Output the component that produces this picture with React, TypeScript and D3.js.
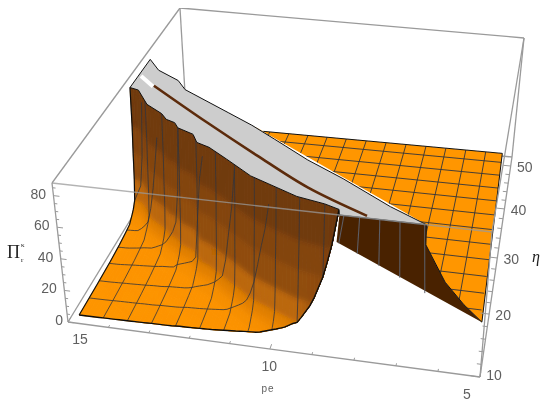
import React from 'react';
import * as d3 from 'd3';

type V = [number, number, number];

const zTop = 88;

// where the front part of the surface leaves the top of the box: pe / eta (also the jagged lower edge of the cap)
const capLowerPe = [14.8, 14.55, 14.1, 13.6, 13.4, 13.15, 13, 12.55, 12.35, 12, 11.45, 10.7, 9.47, 8.8, 8.45, 8.4];
const capLowerEta = [30.4, 30.0, 27.2, 25.6, 24.5, 24.0, 23.0, 22.0, 20.4, 19.7, 17.9, 15.3, 12.5, 11.7, 11, 10];
// Pi against the distance in eta below that edge
const poleOffset = [0, 0.35, 0.7, 1, 1.4, 2, 2.5, 3.5, 5, 7, 10, 14, 20, 30];
const piAtOffset = [88, 62, 45, 28, 15, 11, 9, 5.5, 4.5, 3.5, 2.6, 2, 1.5, 1];

// mesh lines of the front part
const frontEta = 11;
const meshPe = [14.2, 13.6, 13, 12.4, 11.8, 11.2, 10.6, 10, 9.4, 8.8];
const meshEta = [14, 17, 20, 23, 26, 29];

// flat back part
const planePe = [5.8, 6.4, 7, 7.6, 8.2, 8.8, 9.4, 10, 10.6, 11.2, 11.8, 12.4];
const planeEta = [20, 23, 26, 29, 32, 35, 38, 41, 44, 47, 50];
const planeLevel = 2;
const planeCorners: V[] = [[12.6, 52, 2], [5.3, 52, 2], [5.15, 18.6, 0]];

// dark wall under the clipped part
const wallCurve: V[] = [[5.15, 18.6, 0], [5.6, 16.7, 17], [6.05, 14.5, 38], [6.5, 12.2, 68], [6.46, 10, 88]];
const wallTopLeft: V = [8.4, 10, 88];
const wallFoot: V = [9.3, 29.6, 0];
const wallMeshTopPe = [8.3, 7.95, 7.5, 7.05, 6.5];
const wallMeshFootPe = [9.23, 8.67, 8.03, 7.42, 6.7];
const wallMeshFootEta = [29.4, 27.9, 26.2, 24.5, 22.3];

// upper edge of the cap, the brown stripe in it and the white notch
const capUpperPe = [14.8, 14.39, 13.72, 13.4, 12, 11.26, 10.54, 10.22, 9.56, 8.6, 7.35, 6.46];
const capUpperEta = [37.6, 35.2, 33.2, 31.2, 27.2, 25.1, 22.7, 21.6, 19.3, 16.6, 12.5, 10];
const stripePe = [14.24, 12.4, 10.8, 9.3, 7.8];
const stripeEta = [31.4, 24.8, 19.2, 14.3, 10.4];
const notchPe = [14.73, 14.25];
const notchEta = [33.4, 31.2];

const peTicks = [15, 10, 5];
const etaTicks = [10, 20, 30, 40, 50];
const piTicks = [0, 20, 40, 60, 80];
const peMinor = [14, 13, 12, 11, 9, 8, 7, 6];
const etaMinor = [12, 14, 16, 18, 22, 24, 26, 28, 32, 34, 36, 38, 42, 44, 46, 48];
const piMinor = [5, 10, 15, 25, 30, 35, 45, 50, 55, 65, 70, 75, 85];

const uScale = d3.scaleLinear().domain([15, 10, 5]).range([0, 0.49, 1]);
const vScale = d3.scaleLinear().domain([10, 20, 30, 40, 50, 52]).range([0, 0.286, 0.541, 0.764, 0.959, 1]);
const wScale = d3.scaleLinear().domain([0, zTop]).range([0, 1]);
const poleScale = d3.scaleLinear().domain(capLowerPe).range(capLowerEta);
const profile = d3.scaleLinear().domain(poleOffset).range(piAtOffset).clamp(true);

const P000 = [68, 322];
const P100 = [480, 377];
const P010 = [187, 127];
const P110 = [512, 157];
const P001 = [52, 183];
const P101 = [492, 232];
const P011 = [180, 8];
const P111 = [524, 38];

function project(pe: number, eta: number, z: number): [number, number] {
  const u = uScale(pe);
  const v = vScale(eta);
  const w = wScale(z);
  const mix = (k: number) => {
    const low = (1 - v) * ((1 - u) * P000[k] + u * P100[k]) + v * ((1 - u) * P010[k] + u * P110[k]);
    const high = (1 - v) * ((1 - u) * P001[k] + u * P101[k]) + v * ((1 - u) * P011[k] + u * P111[k]);
    return (1 - w) * low + w * high;
  };
  return [mix(0), mix(1)];
}

const line = d3.line<[number, number]>();
const curve = d3.line<[number, number]>().curve(d3.curveCatmullRom);
const path3 = (pts: V[]) => line(pts.map((p) => project(p[0], p[1], p[2]))) as string;
const closed = (pts: V[]) => path3(pts) + 'Z';
const seg = (a: number[], b: number[]) => line([a as [number, number], b as [number, number]]) as string;

// point of the front surface on the pe column, some distance below the cap
function surf(pe: number, off: number): V {
  const pole = poleScale(pe);
  const eta = pole - off;
  if (eta < frontEta) return [pe, frontEta, profile(pole - frontEta)];
  return [pe, eta, profile(off)];
}

const peEnd = 8.45;
const peSweep = d3.range(14.8, peEnd, -0.1).concat(peEnd);

const piColor = d3
  .scaleLinear<string>()
  .domain([0, 6, 14, 30, 88])
  .range(['#ff9600', '#fb9200', '#dc7c06', '#96500a', '#663408'])
  .clamp(true);

const ORANGE = '#ff9600';
const GRAY = '#cdcdcd';
const MESH = '#33353c';
const BOX = '#9a9a9a';
const TEXT = '#5f5f5f';

export default function App() {
  // cap side first, the low front part over it
  const cells: { d: string; color: string }[] = [];
  for (let k = 0; k < poleOffset.length - 1; k++) {
    for (let i = 0; i < peSweep.length - 1; i++) {
      const q = [
        surf(peSweep[i], poleOffset[k]),
        surf(peSweep[i + 1], poleOffset[k]),
        surf(peSweep[i + 1], poleOffset[k + 1]),
        surf(peSweep[i], poleOffset[k + 1]),
      ];
      cells.push({ d: closed(q), color: piColor(d3.mean(q, (p) => p[2]) as number) });
    }
  }
  const rowLine = (eta: number) =>
    path3(
      peSweep
        .filter((pe) => poleScale(pe) >= eta)
        .map((pe) => [pe, eta, profile(poleScale(pe) - eta)] as V),
    );
  const colLines = meshPe.map((pe) => path3(poleOffset.map((off) => surf(pe, off))));

  const capLower: V[] = capLowerPe.map((pe, i) => [pe, capLowerEta[i], zTop]);
  const capUpper: V[] = capUpperPe.map((pe, i) => [pe, capUpperEta[i], zTop]);
  const capEdge: V[] = [...capLower, ...capUpper.slice().reverse()];
  const planeOutline: V[] = [...planeCorners.slice(0, 2), ...wallCurve, [11.26, 25.1, zTop]];
  const wallOutline: V[] = [wallFoot, ...wallCurve, wallTopLeft];

  const zFront = (z: number) => project(15, 10, z);
  const zTick = (z: number, d: number) => project(15 - d, 10, z);
  const labelDx = d3.scaleLinear().domain([15, 5]).range([12, -13]);
  const fontFamily = '"Liberation Sans", Arial, sans-serif';

  return (
    <svg
      width={550}
      height={409}
      viewBox="0 0 550 409"
      style={{ position: 'absolute', left: 0, top: 0, display: 'block', background: '#fff' }}
    >
      <defs>
        <filter id="soft" x="-10%" y="-10%" width="120%" height="120%">
          <feGaussianBlur stdDeviation="2.5" />
        </filter>
        <filter id="scan" x="0" y="0" width="100%" height="100%">
          <feGaussianBlur stdDeviation="0.4" />
        </filter>
        <clipPath id="planeClip">
          <path d={closed(planeOutline)} />
        </clipPath>
        <clipPath id="surfClip">
          {cells.map((c, i) => (
            <path key={i} d={c.d} />
          ))}
        </clipPath>
      </defs>

      <g filter="url(#scan)">
        {/* back of the box */}
        <g fill="none" stroke={BOX} strokeWidth={1.3}>
          <path d={seg(P001, P011)} />
          <path d={seg(P011, P111)} />
          <path d={seg(P011, P010)} />
          <path d={seg(P111, P110)} />
          <path d={seg(P010, P110)} />
          <path d={seg(P000, P010)} />
        </g>

        {/* flat back part */}
        <path d={closed(planeOutline)} fill={ORANGE} />
        <g clipPath="url(#planeClip)" fill="none" stroke={MESH} strokeWidth={1} strokeOpacity={0.9}>
          {planeEta.map((eta) => (
            <path key={eta} d={path3([[13, eta, planeLevel], [5.2, eta, planeLevel]])} />
          ))}
          {planePe.map((pe) => (
            <path key={pe} d={path3([[pe, 52, planeLevel], [pe, 15, planeLevel]])} />
          ))}
        </g>
        <path d={path3(planeCorners)} fill="none" stroke="#111" strokeWidth={1} />

        {/* wall behind the cap */}
        <path d={closed(wallOutline)} fill="#4a2406" />
        <g fill="none" stroke="#5d6068" strokeWidth={1}>
          {wallMeshTopPe.map((pe, i) => (
            <path key={pe} d={path3([[pe, 10, zTop], [wallMeshFootPe[i], wallMeshFootEta[i], 0]])} />
          ))}
        </g>
        <path d={path3(wallCurve)} fill="none" stroke="#111" strokeWidth={1} />

        {/* front part with the smooth shading */}
        {cells.map((c, i) => (
          <path key={i} d={c.d} fill={c.color} stroke={c.color} strokeWidth={0.6} />
        ))}
        <g clipPath="url(#surfClip)">
          <g filter="url(#soft)">
            {cells.map((c, i) => (
              <path key={i} d={c.d} fill={c.color} stroke={c.color} strokeWidth={0.6} />
            ))}
          </g>
        </g>
        <g fill="none" stroke={MESH} strokeWidth={1} strokeOpacity={0.8}>
          {meshEta.map((eta) => (
            <path key={eta} d={rowLine(eta)} />
          ))}
          {colLines.map((d, i) => (
            <path key={i} d={d} />
          ))}
        </g>
        <path d={path3(poleOffset.map((off) => surf(14.8, off)))} fill="none" stroke="#111" strokeWidth={1.2} />
        <path d={rowLine(frontEta)} fill="none" stroke="#111" strokeWidth={1.4} />

        {/* clipped cap */}
        <path d={closed(capEdge)} fill={GRAY} stroke="#111" strokeWidth={1} />
        <path d={path3(notchPe.map((pe, i) => [pe, notchEta[i], zTop]))} fill="none" stroke="#fff" strokeWidth={4} />
        <path
          d={curve(stripePe.map((pe, i) => project(pe, stripeEta[i], zTop))) as string}
          fill="none"
          stroke="#5c2c08"
          strokeWidth={2.6}
        />

        {/* front of the box and axes */}
        <g fill="none" stroke={BOX} strokeWidth={1.3}>
          <path d={seg(P000, P100)} />
          <path d={seg(P000, P001)} />
          <path d={seg(P100, P110)} />
          <path d={seg(P100, P101)} />
          <path d={seg(P101, P111)} />
          <path d={seg(P001, P101)} strokeOpacity={0.75} />
        </g>
        <g fill="none" stroke={BOX} strokeWidth={1}>
          {piTicks.map((z) => (
            <path key={z} d={seg(zFront(z), zTick(z, 0.14))} />
          ))}
          {piMinor.map((z) => (
            <path key={z} d={seg(zFront(z), zTick(z, 0.07))} />
          ))}
          {peTicks.map((pe) => (
            <path key={pe} d={seg(project(pe, 10, 0), project(pe, 10.8, 0))} />
          ))}
          {peMinor.map((pe) => (
            <path key={pe} d={seg(project(pe, 10, 0), project(pe, 10.4, 0))} />
          ))}
          {etaTicks.map((eta) => (
            <path key={eta} d={seg(project(5, eta, 0), project(5.22, eta, 0))} />
          ))}
          {etaMinor.map((eta) => (
            <path key={eta} d={seg(project(5, eta, 0), project(5.12, eta, 0))} />
          ))}
        </g>

        <g fontFamily={fontFamily} fontSize={14} fill={TEXT} textAnchor="middle">
          {peTicks.map((pe) => {
            const [x, y] = project(pe, 10, 0);
            return (
              <text key={pe} x={x + labelDx(pe)} y={y + 22}>
                {pe}
              </text>
            );
          })}
          {etaTicks.map((eta) => {
            const [x, y] = project(5, eta, 0);
            return (
              <text key={eta} x={x + 14} y={y + (eta === 10 ? 3 : 6)}>
                {eta}
              </text>
            );
          })}
          {piTicks.map((z) => {
            const [x, y] = zFront(z);
            return (
              <text key={z} x={x - (z === 0 ? 5 : 7.5)} y={y + 3} textAnchor="end">
                {z}
              </text>
            );
          })}
          <text x={268} y={392} fontSize={10} letterSpacing={1}>
            pe
          </text>
        </g>
        <g fontFamily='"Liberation Serif", serif' fill="#222">
          <text x={7} y={258} fontSize={18}>
            Π
          </text>
          <text x={21} y={247} fontSize={7}>
            κ
          </text>
          <text x={21} y={262} fontSize={7}>
            r
          </text>
          <text x={536} y={262} fontSize={16} fontStyle="italic" textAnchor="middle">
            η
          </text>
        </g>
      </g>
    </svg>
  );
}
